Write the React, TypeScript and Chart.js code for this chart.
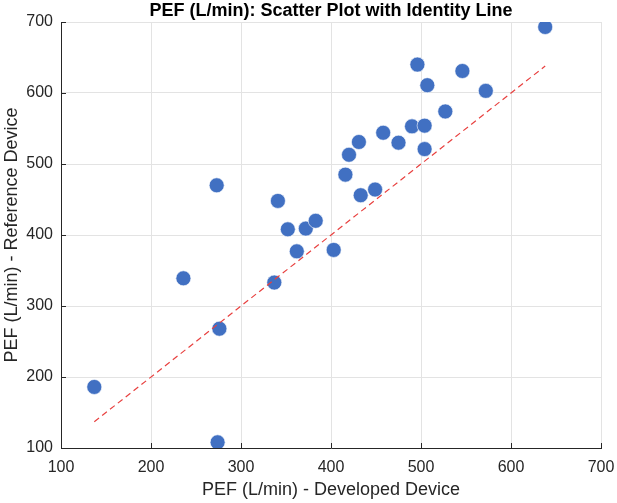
import React, { useEffect, useRef } from "react";
import { Chart, registerables } from "chart.js";

Chart.register(...registerables);

const developed = [137, 236, 273, 276, 274, 337, 341, 352, 362, 372, 383, 403, 416, 420, 431, 433, 449, 458, 475, 490, 496, 504, 504, 507, 527, 546, 572, 638];
const reference = [186, 339, 470, 268, 108, 333, 448, 408, 377, 409, 420, 379, 485, 513, 531, 456, 464, 544, 530, 553, 640, 521, 554, 611, 574, 631, 603, 693];
const identityLine = [137, 638];
const xTicks = [100, 200, 300, 400, 500, 600, 700];
const yTicks = [100, 200, 300, 400, 500, 600, 700];

const FONT = "'Liberation Sans', Arial, Helvetica, sans-serif";
const TEXT = "#262626";

const inwardTicks = {
  id: "inwardTicks",
  afterDatasetsDraw(chart: any) {
    const { ctx, chartArea, scales } = chart;
    ctx.save();
    ctx.strokeStyle = TEXT;
    ctx.lineWidth = 1;
    ctx.beginPath();
    for (const v of xTicks) {
      const x = Math.round(scales.x.getPixelForValue(v)) + 0.5;
      ctx.moveTo(x, chartArea.bottom);
      ctx.lineTo(x, chartArea.bottom - 5);
    }
    for (const v of yTicks) {
      const y = Math.round(scales.y.getPixelForValue(v)) + 0.5;
      ctx.moveTo(chartArea.left, y);
      ctx.lineTo(chartArea.left + 5, y);
    }
    ctx.stroke();
    ctx.restore();
  },
};

export default function App() {
  const ref = useRef<HTMLCanvasElement>(null);
  useEffect(() => {
    if (!ref.current) return;
    const points = developed.map((x, i) => ({ x, y: reference[i] }));
    const line = identityLine.map((v) => ({ x: v, y: v }));
    const chart = new Chart(ref.current, {
      type: "scatter",
      data: {
        datasets: [
          {
            type: "line",
            data: line,
            borderColor: "#e8403f",
            borderWidth: 1.2,
            borderDash: [6, 4],
            pointRadius: 0,
            fill: false,
            order: 0,
          } as any,
          {
            data: points,
            backgroundColor: "#4170c2",
            borderColor: "rgba(255,255,255,0.6)",
            borderWidth: 1,
            pointRadius: 7.5,
            order: 1,
          },
        ],
      },
      options: {
        responsive: false,
        animation: false,
        layout: { padding: { top: 22, right: 16, left: 0, bottom: 0 } },
        plugins: {
          legend: { display: false },
          tooltip: { enabled: false },
          title: { display: false },
        },
        scales: {
          x: {
            type: "linear",
            min: 100,
            max: 700,
            afterBuildTicks: (s: any) => {
              s.ticks = xTicks.map((v) => ({ value: v }));
            },
            afterFit: (s: any) => {
              s.height = 55;
              s.paddingRight = 0;
              s.paddingLeft = 0;
            },
            ticks: { font: { family: FONT, size: 16 }, color: TEXT, padding: 10 },
            grid: { color: "#e3e3e3", drawTicks: false },
            border: { color: TEXT, width: 1 },
            title: {
              display: true,
              text: "PEF (L/min) - Developed Device",
              font: { family: FONT, size: 18 },
              color: TEXT,
              padding: { top: 0, bottom: 2 },
            },
          },
          y: {
            type: "linear",
            min: 100,
            max: 700,
            afterBuildTicks: (s: any) => {
              s.ticks = yTicks.map((v) => ({ value: v }));
            },
            afterFit: (s: any) => {
              s.width = 61;
              s.paddingTop = 0;
              s.paddingBottom = 0;
            },
            ticks: { font: { family: FONT, size: 16 }, color: TEXT, padding: 8 },
            grid: { color: "#e3e3e3", drawTicks: false },
            border: { color: TEXT, width: 1 },
            title: {
              display: true,
              text: "PEF (L/min) - Reference Device",
              font: { family: FONT, size: 18 },
              color: TEXT,
              padding: { top: 1, bottom: 0 },
            },
          },
        },
      },
      plugins: [
        inwardTicks,
        {
          id: "topTitle",
          afterDraw(c: any) {
            const { ctx, chartArea } = c;
            ctx.save();
            ctx.font = `bold 18px ${FONT}`;
            ctx.fillStyle = "#000";
            ctx.textAlign = "center";
            ctx.textBaseline = "middle";
            ctx.fillText("PEF (L/min): Scatter Plot with Identity Line", (chartArea.left + chartArea.right) / 2, 11);
            ctx.restore();
          },
        },
      ],
    });
    return () => chart.destroy();
  }, []);
  return (
    <div style={{ position: "absolute", left: 0, top: 0, width: 617, height: 503, background: "#fff" }}>
      <canvas ref={ref} width={617} height={503} style={{ width: 617, height: 503 }} />
    </div>
  );
}
